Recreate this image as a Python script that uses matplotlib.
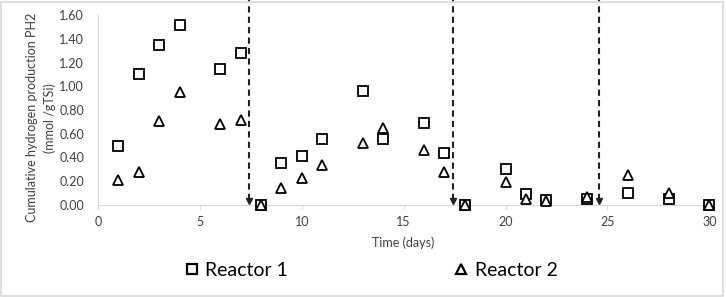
#!/usr/bin/env python3
# cumulative hydrogen production, two reactors, with feeding events marked
import matplotlib.pyplot as plt
from matplotlib.lines import Line2D
from matplotlib.patches import Rectangle

plt.rcParams['font.family'] = ['Lato', 'DejaVu Sans']

# data
days = [1, 2, 3, 4, 6, 7, 8, 9, 10, 11, 13, 14, 16, 17, 18, 20, 21, 22, 24, 26, 28, 30]
reactor1 = [0.50, 1.10, 1.35, 1.52, 1.145, 1.28, 0.0, 0.35, 0.415, 0.56, 0.96, 0.56,
            0.69, 0.435, 0.0, 0.30, 0.09, 0.04, 0.05, 0.10, 0.05, 0.0]
reactor2 = [0.21, 0.28, 0.71, 0.95, 0.685, 0.72, 0.0, 0.14, 0.23, 0.34, 0.52, 0.65,
            0.46, 0.28, 0.0, 0.19, 0.05, 0.03, 0.07, 0.25, 0.10, 0.0]
event_days = [7.4, 17.4, 24.6]
series_labels = ["Reactor 1", "Reactor 2"]

fig = plt.figure(figsize=(7.26, 2.97), dpi=100, facecolor="white")
ax = fig.add_axes([0.135, 0.31, 0.842, 0.639])

# markers
ax.plot(days, reactor1, linestyle="None", marker="s", markersize=6.5, markerfacecolor="white",
        markeredgecolor="black", markeredgewidth=1.3, zorder=3, clip_on=False)
ax.plot(days, reactor2, linestyle="None", marker="^", markersize=6.5, markerfacecolor="white",
        markeredgecolor="black", markeredgewidth=1.3, zorder=4, clip_on=False)

# dashed event lines with arrow head at the bottom
for d in event_days:
    ax.plot([d, d], [0.04, 1.75], color="#222222", linestyle=(0, (3, 2)), linewidth=1.5,
            clip_on=False, zorder=2)
    ax.plot(d, 0.035, marker="v", markersize=4, color="#222222", clip_on=False, zorder=2)

ax.set_xlim(0, 30)
ax.set_ylim(0, 1.6)
ax.set_xticks(range(0, 31, 5))
ax.set_yticks([i * 0.2 for i in range(9)])
ax.set_yticklabels(["%.2f" % (i * 0.2) for i in range(9)])
ax.tick_params(axis="both", labelsize=9, colors="#d9d9d9", labelcolor="#404040")
ax.tick_params(axis="x", length=3, direction="out", pad=5)
ax.tick_params(axis="y", length=0, pad=10)

for side in ["top", "right"]:
    ax.spines[side].set_visible(False)
ax.spines["left"].set_color("#d9d9d9")
ax.spines["bottom"].set_color("#d9d9d9")

ax.set_xlabel("Time (days)", fontsize=9, color="#404040", labelpad=6)
ax.set_ylabel("Cumulative hydrogen production PH2\n(mmol /gTSi)", fontsize=9,
              color="#404040", linespacing=1.6)
ax.yaxis.set_label_coords(-0.068, 0.46) # centre of the label sits a bit low, like the original

# legend below the axes
handles = [
    Line2D([], [], linestyle="None", marker="s", markersize=6.5, markerfacecolor="white",
           markeredgecolor="black", markeredgewidth=1.6),
    Line2D([], [], linestyle="None", marker="^", markersize=6.5, markerfacecolor="white",
           markeredgecolor="black", markeredgewidth=1.6),
]
fig.legend(handles, series_labels, loc="center", bbox_to_anchor=(0.512, 0.09), ncol=2,
           frameon=False, fontsize=14, handlelength=0.6, handletextpad=0.4,
           columnspacing=8.6)

# light grey frame around the whole chart
fig.patches.append(Rectangle((0.002, 0.004), 0.994, 0.99, transform=fig.transFigure,
                             fill=False, edgecolor="#d9d9d9", linewidth=1.2))

fig.savefig("out.png", dpi=100, facecolor="white")
